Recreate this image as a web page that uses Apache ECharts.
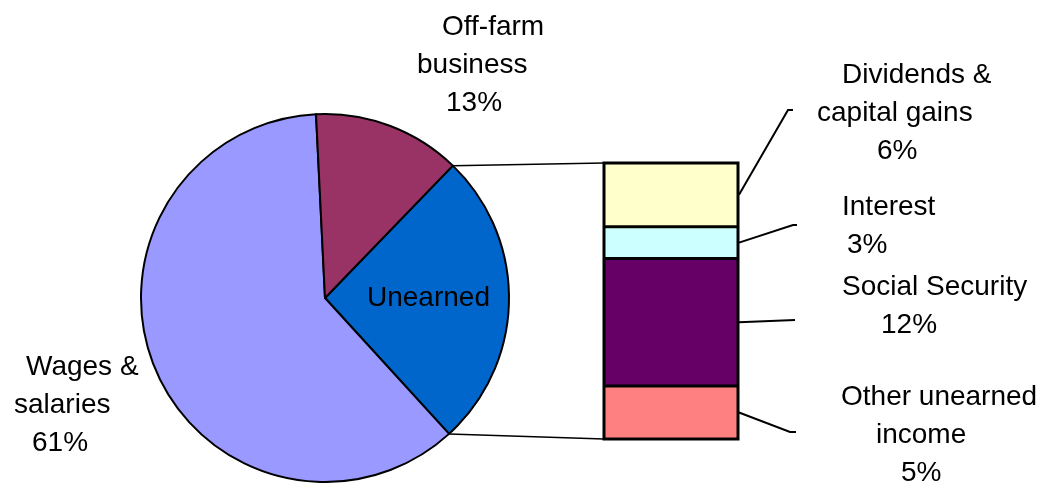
<!DOCTYPE html>
<html><head><meta charset="utf-8">
<script src="https://cdn.jsdelivr.net/npm/echarts@6/dist/echarts.min.js"></script>
<style>html,body{margin:0;padding:0;background:#fff}#c{width:1048px;height:483px}</style>
</head><body><div id="c"></div>
<script>
// ---- data ----
const barNames = ['Dividends &\ncapital gains', 'Interest', 'Social Security', 'Other unearned\nincome'];
const barValues = [6, 3, 12, 5];
const pieNames = ['Unearned', 'Wages &\nsalaries', 'Off-farm\nbusiness'];
const pieValues = [barValues.reduce((a, b) => a + b, 0), 61, 13];

// ---- styles / layout ----
const FONT = '"Liberation Sans", Arial, sans-serif';
const FS = 28, LH = 38;
const pieColors = ['#0066CC', '#9999FF', '#993366'];
const barColors = ['#FFFFCC', '#CCFFFF', '#660066', '#FF8080'];
const PIE_C = [325, 298], PIE_R = 184, START = 46;
const GRID = { left: 604, top: 163, width: 134, height: 276 };
const pieLabelPos = [
  { x: 367, y: 279, offs: [0], pct: false },
  { x: 14, y: 348, offs: [12, 0, 18], pct: true },
  { x: 417, y: 8, offs: [25, 0, 29], pct: true }
];
const barLabelPos = [
  { x: 817, y: 56, offs: [25, 0, 60] },
  { x: 842, y: 188, offs: [0, 5] },
  { x: 842, y: 268, offs: [0, 39] },
  { x: 841, y: 378, offs: [0, 35, 60] }
];
const leaderEnds = [
  [[788, 110], [793, 110]],
  [[793, 225], [797, 225]],
  [[795, 320]],
  [[790, 432], [796, 432]]
];

const rich = {};
[...pieLabelPos, ...barLabelPos].forEach(p => p.offs.forEach(o => {
  rich['o' + o] = { fontSize: FS, lineHeight: LH, fontFamily: FONT, color: '#000', padding: [0, 0, 0, o] };
}));
function fmt(name, value, pos, pct) {
  const lines = name.split('\n');
  if (pct) lines.push(value + '%');
  return lines.map((l, i) => '{o' + pos.offs[i] + '|' + l + '}').join('\n');
}

const chart = echarts.init(document.getElementById('c'), null, { renderer: 'canvas' });

// bar series stacked bottom-to-top: Other, Social Security, Interest, Dividends
const barSeries = [];
for (let k = barValues.length - 1; k >= 0; k--) {
  barSeries.push({
    type: 'bar', stack: 'u', name: barNames[k], barWidth: '100%',
    data: [barValues[k]],
    itemStyle: { color: barColors[k], borderWidth: 0 },
    label: {
      show: true, rich: rich,
      formatter: () => fmt(barNames[k], barValues[k], barLabelPos[k], true)
    },
    labelLayout: () => ({ x: barLabelPos[k].x, y: barLabelPos[k].y, align: 'left', verticalAlign: 'top' }),
    emphasis: { disabled: true }, silent: true
  });
}

chart.setOption({
  animation: false,
  grid: GRID,
  xAxis: { type: 'category', data: ['u'], show: false },
  yAxis: { type: 'value', min: 0, max: pieValues[0], show: false },
  series: [{
    type: 'pie', center: PIE_C, radius: PIE_R, startAngle: START, clockwise: true,
    avoidLabelOverlap: false,
    data: pieNames.map((n, i) => ({ name: n, value: pieValues[i], itemStyle: { color: pieColors[i] } })),
    itemStyle: { borderColor: '#000', borderWidth: 2 },
    label: {
      show: true, position: 'outside', rich: rich,
      formatter: p => fmt(pieNames[p.dataIndex], pieValues[p.dataIndex], pieLabelPos[p.dataIndex], pieLabelPos[p.dataIndex].pct)
    },
    labelLine: { show: false },
    labelLayout: p => ({ x: pieLabelPos[p.dataIndex].x, y: pieLabelPos[p.dataIndex].y, align: 'left', verticalAlign: 'top' }),
    emphasis: { disabled: true }, silent: true
  }, ...barSeries]
});

// connectors, bar outlines & leader lines
const total = pieValues.reduce((a, b) => a + b, 0);
const a1 = START * Math.PI / 180;
const a2 = (START - pieValues[0] / total * 360) * Math.PI / 180;
const pTop = [PIE_C[0] + PIE_R * Math.cos(a1), PIE_C[1] - PIE_R * Math.sin(a1)];
const pBot = [PIE_C[0] + PIE_R * Math.cos(a2), PIE_C[1] - PIE_R * Math.sin(a2)];
const yTop = chart.convertToPixel({ yAxisIndex: 0 }, pieValues[0]);
const yBot = chart.convertToPixel({ yAxisIndex: 0 }, 0);
const xl = GRID.left, xr = GRID.left + GRID.width;
const lineStyle = { stroke: '#000', lineWidth: 1.5, fill: null };
const graphics = [
  { type: 'polyline', shape: { points: [pTop, [xl, yTop]] }, style: lineStyle, silent: true },
  { type: 'polyline', shape: { points: [pBot, [xl, yBot]] }, style: lineStyle, silent: true },
  { type: 'rect', shape: { x: xl, y: yTop, width: xr - xl, height: yBot - yTop },
    style: { stroke: '#000', lineWidth: 3, fill: null }, silent: true, z: 10 }
];
let cum = pieValues[0];
barValues.forEach((v, k) => {
  const mid = cum - v / 2;
  cum -= v;
  const y = chart.convertToPixel({ yAxisIndex: 0 }, mid);
  graphics.push({ type: 'polyline', shape: { points: [[xr + 1, y], ...leaderEnds[k]] },
    style: { stroke: '#000', lineWidth: 2, fill: null }, silent: true });
  if (cum > 0) {
    const yb = chart.convertToPixel({ yAxisIndex: 0 }, cum);
    graphics.push({ type: 'line', shape: { x1: xl, y1: yb, x2: xr, y2: yb },
      style: { stroke: '#000', lineWidth: 3 }, silent: true, z: 10 });
  }
});
chart.setOption({ graphic: graphics });
</script>
</body></html>
